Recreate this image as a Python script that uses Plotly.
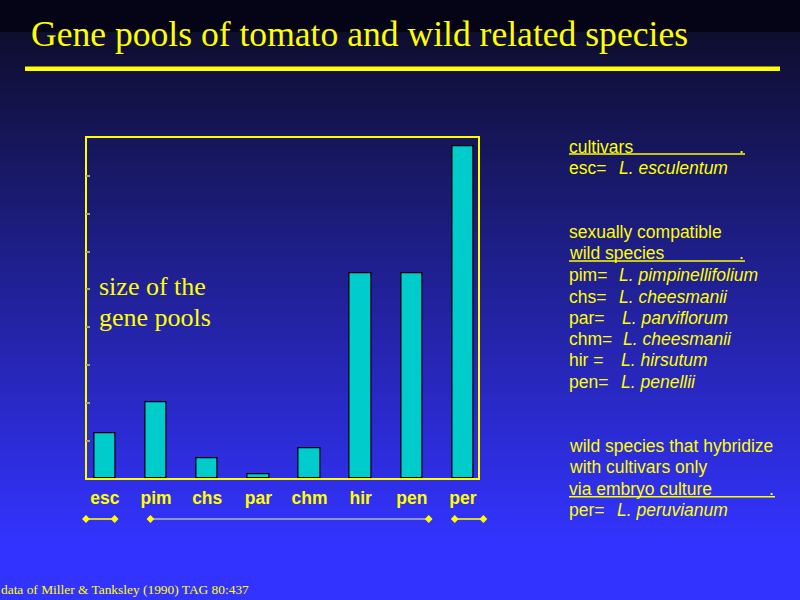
import base64
import struct
import zlib

import plotly.graph_objects as go

# ---------------- data ----------------
categories = ["esc", "pim", "chs", "par", "chm", "hir", "pen", "per"]
pool_size = [1.2, 2.0, 0.53, 0.1, 0.8, 5.42, 5.42, 8.8]

# group brackets under the axis (in category units)
bracket_start = [-0.37, 0.89, 6.84]
bracket_end = [0.19, 6.33, 7.40]

title_text = "Gene pools of tomato and wild related species"
ylabel_lines = ["size of the", "gene pools"]
footnote = "data of Miller &amp; Tanksley (1990) TAG 80:437"

legend_codes = ["esc=", "pim=", "chs=", "par=", "chm=", "hir =", "pen=", "per="]
legend_species = ["L. esculentum", "L. pimpinellifolium", "L. cheesmanii",
                  "L. parviflorum", "L. cheesmanii", "L. hirsutum",
                  "L. penellii", "L. peruvianum"]
group_headers = [["cultivars"],
                 ["sexually compatible", "wild species"],
                 ["wild species that hybridize", "with cultivars only",
                  "via embryo culture"]]

# ---------------- layout constants ----------------
W, H = 800, 600
YELLOW = "#ffff00"
SANS = "Liberation Sans, Arial, sans-serif"
SERIF = "Liberation Serif, Times New Roman, serif"


def px(x):
    return x / W


def py(y):
    return 1 - y / H


# background gradient as a tiny PNG
def gradient_png(h=H, w=4):
    raw = b""
    for y in range(h):
        if y < 32:
            c = (4, 4, 22)
        else:
            t = min(1.0, (y - 32) / (540 - 32))
            c0, c1 = (14, 14, 46), (51, 51, 255)
            c = tuple(int(round(a + (b - a) * t)) for a, b in zip(c0, c1))
        raw += b"\x00" + bytes(c) * w

    def chunk(tag, data):
        return (struct.pack(">I", len(data)) + tag + data +
                struct.pack(">I", zlib.crc32(tag + data) & 0xffffffff))

    png = b"\x89PNG\r\n\x1a\n"
    png += chunk(b"IHDR", struct.pack(">IIBBBBB", w, h, 8, 2, 0, 0, 0))
    png += chunk(b"IDAT", zlib.compress(raw, 9))
    png += chunk(b"IEND", b"")
    return "data:image/png;base64," + base64.b64encode(png).decode()


# main plot area (pixels)
PX_L, PX_R, PX_T, PX_B = 86.5, 478.3, 138.3, 478.3
XR = [-0.36, 7.30]
ppu = (PX_R - PX_L) / (XR[1] - XR[0])
X2R = [XR[0] - PX_L / ppu, XR[1] + (W - PX_R) / ppu]

fig = go.Figure()

fig.add_trace(go.Bar(
    x=categories, y=pool_size, width=0.42,
    marker=dict(color="#00cccc", line=dict(color="#000000", width=1.2)),
    xaxis="x", yaxis="y", hoverinfo="skip",
))

bracket_colors = [YELLOW, "#b4b4b4", YELLOW]
for s, e, c in zip(bracket_start, bracket_end, bracket_colors):
    fig.add_trace(go.Scatter(
        x=[s, e], y=[0.5, 0.5], mode="lines+markers",
        line=dict(color=c, width=1.6),
        marker=dict(symbol="diamond", size=6, color=YELLOW),
        xaxis="x2", yaxis="y2", hoverinfo="skip",
    ))

annotations = []


def ann(text, x, y, size, family, xanchor="left", color=YELLOW):
    annotations.append(dict(
        text=text, x=px(x), y=py(y), xref="paper", yref="paper",
        xanchor=xanchor, yanchor="middle", showarrow=False,
        font=dict(size=size, family=family, color=color),
    ))


ann(title_text, 29, 34, 35.6, SERIF)
ann(ylabel_lines[0], 97, 287, 26, SERIF)
ann(ylabel_lines[1], 97, 317, 26, SERIF)
ann(footnote, -1, 589, 13.4, SERIF)

# right-hand legend text
TX = 567
row_y = {"cultivars": 146.5, "sexually compatible": 232, "wild species": 253,
         "wild species that hybridize": 446, "with cultivars only": 467,
         "via embryo culture": 488.5}
for grp in group_headers:
    for line in grp:
        ann(line, TX, row_y[line], 17.5, SANS)

code_y = [168, 275, 296.5, 318, 339, 360, 381.5, 510]
species_x = [619, 619, 619, 622, 623, 621, 621, 617]
for code, sp, yy, sx in zip(legend_codes, legend_species, code_y, species_x):
    ann(code, TX, yy, 17.5, SANS)
    ann("<i>" + sp + "</i>", sx - 2, yy, 17.5, SANS)

# underlines with trailing dots
underlines = [(569, 745, 154, 146.5), (569, 745, 261, 253), (569, 775, 496.7, 488.5)]
shapes = []
for x0, x1, uy, ty in underlines:
    shapes.append(dict(type="line", xref="paper", yref="paper",
                       x0=px(x0), x1=px(x1), y0=py(uy), y1=py(uy),
                       line=dict(color=YELLOW, width=1.5)))
    ann(".", x1 + 1, ty, 17.5, SANS, xanchor="right")

# title rule
shapes.append(dict(type="rect", xref="paper", yref="paper",
                   x0=px(25), x1=px(780), y0=py(71), y1=py(66.5),
                   fillcolor=YELLOW, line=dict(width=0)))

fig.update_layout(
    width=W, height=H,
    margin=dict(l=0, r=0, t=0, b=0),
    paper_bgcolor="#1a1a80",
    plot_bgcolor="rgba(0,0,0,0)",
    showlegend=False,
    images=[dict(source=gradient_png(), xref="paper", yref="paper",
                 x=0, y=1, sizex=1, sizey=1, xanchor="left", yanchor="top",
                 sizing="stretch", layer="below")],
    annotations=annotations,
    shapes=shapes,
    bargap=0,
    xaxis=dict(
        domain=[px(PX_L), px(PX_R)], type="category", range=XR,
        showline=True, linecolor=YELLOW, linewidth=1.5, mirror=True,
        showgrid=False, zeroline=False, ticks="",
        tickfont=dict(family=SANS, size=17.5, color=YELLOW, weight="bold"),
        ticklabelstandoff=3, fixedrange=True,
    ),
    yaxis=dict(
        domain=[py(PX_B), py(PX_T)], range=[0, 9], dtick=1,
        showline=True, linecolor=YELLOW, linewidth=1.5, mirror=True,
        showgrid=False, zeroline=False, ticks="inside", ticklen=4,
        tickwidth=1.5, tickcolor="#a8a860", showticklabels=False,
        fixedrange=True,
    ),
    xaxis2=dict(domain=[0, 1], range=X2R, visible=False, anchor="y2",
                fixedrange=True),
    yaxis2=dict(domain=[py(540), py(498)], range=[0, 1], visible=False,
                anchor="x2", fixedrange=True),
)

fig.write_html("out.html")
